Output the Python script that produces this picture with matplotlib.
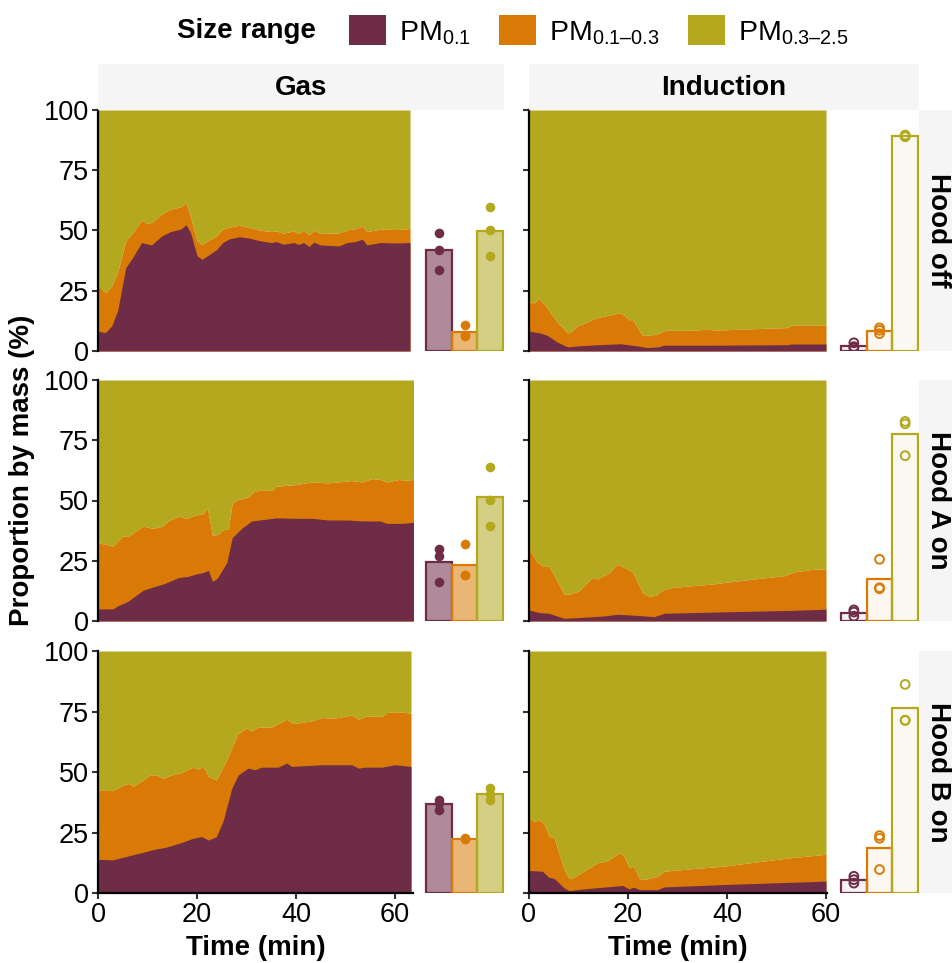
import matplotlib
matplotlib.use("Agg")
import matplotlib.pyplot as plt
from matplotlib.colors import to_rgba
from matplotlib.patches import Patch

plt.rcParams['font.family'] = ['Liberation Sans', 'DejaVu Sans']
plt.rcParams['mathtext.fontset'] = 'custom'
plt.rcParams['mathtext.rm'] = 'Liberation Sans'

# colours per size range
c_pm01 = '#6E2C46'
c_pm013 = '#D97A06'
c_pm0325 = '#B3A81E'
size_labels = [r'PM$_{\mathregular{0.1}}$', r'PM$_{\mathregular{0.1–0.3}}$', r'PM$_{\mathregular{0.3–2.5}}$']
stoves = ['Gas', 'Induction']
hoods = ['Hood off', 'Hood A on', 'Hood B on']

# ---- time series: upper edge of PM0.1 band and of PM0.1-0.3 band (%) ----
gas_off_t = [0, 1.5, 2.8, 4, 5.6, 7, 8.8, 9.8, 10.8, 12.9, 14.6, 16.7, 17.8, 18.7, 20, 21, 23.9, 25.2, 26.5, 28.6,
             30.6, 32.8, 35, 36, 37.4, 39.5, 40.5, 41.5, 42.6, 43.6, 44.9, 48.6, 50.3, 52, 53.4, 54.3, 57, 60, 63]
gas_off_pm01 = [8.3, 7.6, 10.5, 17, 34.6, 38.8, 45, 44.5, 44, 47.8, 49.5, 50.6, 52.4, 49, 39.5, 38, 42, 45, 46.5, 47.4,
                46.8, 45.7, 45, 45.4, 44.3, 45, 44.2, 45, 43.4, 45.2, 44, 43.6, 45, 45.4, 46.4, 44, 45, 44.8, 45]
gas_off_top = [27, 24.2, 27, 33, 45.7, 49, 54.3, 53, 53.3, 56.8, 58.9, 59.8, 61.6, 55.4, 45.7, 44.3, 47.8, 50.6, 51.5, 52.2,
               51.2, 50.1, 49.6, 49.8, 48.9, 49.8, 48.7, 50, 48.2, 50, 48.8, 49, 50.2, 50.8, 51.7, 49.5, 50.6, 50.4, 50.8]

gas_a_t_pu = [0, 3, 4, 6, 9.1, 10.8, 13.5, 16.2, 18.2, 19.6, 21.2, 22.3, 23.1, 24.1, 26, 27.1, 29, 31, 33, 36,
              39.8, 43.2, 46.5, 50.6, 53.3, 57, 58.3, 61.4, 64]
gas_a_pm01 = [5, 5, 6.3, 8.1, 12.8, 13.9, 15.6, 18, 18.5, 19.4, 20.1, 21, 16.4, 17.8, 24.2, 34.6, 38.4, 41.5, 42, 42.8,
              42.6, 42.6, 41.9, 41.9, 41.5, 41.5, 40.5, 40.5, 41]
gas_a_t_or = [0, 3, 5, 6, 9.1, 11.1, 13.1, 14.2, 16.2, 17.9, 19.6, 21.2, 22.1, 23.1, 24.3, 25.3, 26.3, 27.1, 28.3, 30.3,
              31.4, 33, 35.1, 36, 39.8, 43.2, 46.5, 51.2, 53.3, 55.3, 57, 58.3, 60.7, 63, 64]
gas_a_top = [32.5, 31.1, 35.3, 35, 39.4, 38.4, 39.4, 41.5, 43.5, 42.6, 43.9, 44.5, 46.7, 35.5, 36, 38, 38, 49, 50.4, 51.4,
             53.6, 54.5, 54.1, 55.9, 56.6, 57.7, 57.3, 58.3, 57.7, 59.1, 58.7, 57.7, 58.7, 58.3, 59.6]

gas_b_t_pu = [0, 3, 6.1, 8.8, 11.5, 13.5, 16.9, 19.2, 20.9, 22.3, 23.9, 25.3, 27, 28.3, 30.3, 31.7, 33, 36.4, 38.1, 39.1,
              45.2, 51.2, 52.6, 53.9, 57.3, 60, 63.2]
gas_b_pm01 = [13.9, 13.7, 15.3, 16.7, 18.1, 18.8, 20.9, 22.6, 23.3, 21.9, 23.3, 30, 43.2, 48.8, 51.6, 50.9, 52, 52, 53.7, 52.3,
              53, 53, 51.6, 52, 52, 53, 52.3]
gas_b_t_or = [0, 3, 4.7, 6.1, 7.1, 9.1, 10.5, 11.8, 13.1, 14.8, 16.9, 19.2, 20.2, 21.2, 22.3, 23.9, 26, 28.2, 30, 31,
              32.4, 35.1, 38.1, 39.4, 43.2, 45.2, 47.9, 51.2, 52.6, 54.3, 57.3, 58.3, 60.7, 63.2]
gas_b_top = [42.5, 42.3, 44.2, 45.3, 44.2, 46.7, 48.8, 48.8, 47.4, 48.8, 49.8, 52, 51.2, 52.3, 48.1, 46.7, 55.1, 65.6, 68.3, 66.9,
             68.6, 68.6, 71.8, 70, 71.1, 72.5, 72.3, 73.5, 71.8, 73.2, 73, 74.6, 74.9, 74.3]

ind_off_t_pu = [0, 2, 3.7, 5.7, 7.8, 9.8, 13.8, 18.5, 21.9, 23.9, 26, 27.3, 36, 52.3, 52.9, 60]
ind_off_pm01 = [8.2, 7.6, 6.5, 3.7, 1.7, 2.1, 2.6, 3, 2.1, 1.4, 1.7, 2.4, 2.4, 2.6, 2.9, 2.9]
ind_off_t_or = [0, 1, 2, 3, 5.7, 7.8, 8.4, 9.8, 11.8, 13.1, 15.2, 16.9, 18.2, 19.2, 20.2, 20.9, 22.9, 24.3, 26, 27.6,
                32.7, 35.7, 38.1, 46.2, 51.9, 53.3, 60]
ind_off_top = [20.4, 19.9, 21.7, 19.7, 12, 7.5, 7.9, 10.4, 12, 13.4, 14.5, 15.2, 15.9, 14.8, 13, 13, 6.5, 6.5, 7.2, 8.6,
               8.6, 9, 8.7, 9.3, 9.7, 10.7, 10.7]

ind_a_t_pu = [0, 2, 4, 7.1, 9.8, 15.2, 17.9, 21.2, 23.3, 25.3, 27.3, 39.4, 52.9, 60]
ind_a_pm01 = [4.6, 3.5, 3.2, 1.1, 1.4, 2.1, 2.8, 2.4, 2.1, 1.8, 3.2, 3.8, 4.4, 4.9]
ind_a_t_or = [0, 1.7, 3, 4, 7.1, 8.1, 10.1, 12.8, 13.8, 15.2, 16.2, 17.9, 19.2, 20.9, 22.9, 24.3, 25.6, 27, 29, 32.7,
              36.8, 40.8, 46.2, 51.6, 53.6, 57.7, 60]
ind_a_top = [29.9, 24.3, 22.6, 22.9, 11.1, 11.1, 12.5, 18.1, 17.4, 19, 20.1, 23.6, 22.2, 20.4, 11.8, 10.1, 10.7, 12.9, 13.9, 14.6,
             15.3, 16.3, 17.6, 18.8, 20.4, 21.5, 21.5]

ind_b_t_pu = [0, 2.7, 4, 5.1, 7.1, 8.1, 11.1, 17.2, 18.9, 20.2, 21.2, 22.3, 26, 27.3, 39.4, 60]
ind_b_pm01 = [9.3, 9, 6.5, 6, 2.1, 1, 1.7, 2.8, 3.1, 1.7, 2.4, 1.4, 1.4, 2.5, 3.5, 4.9]
ind_b_t_or = [0, 1, 2, 3, 4, 5.1, 7.1, 8.1, 9.1, 13.8, 15.8, 18.2, 19.2, 20.2, 21.1, 22.3, 23.3, 26, 27.3, 32.7,
              39.4, 46.2, 52.9, 60]
ind_b_top = [31, 29.6, 30.1, 28.8, 23.6, 22.6, 9.7, 6, 6.5, 12.5, 13.2, 16.7, 15.3, 10.4, 11.1, 6, 5.6, 6.9, 9, 10,
             11.1, 12.9, 14.6, 16]

# ---- mean proportions (bars) and per-test values (points), order PM0.1, PM0.1-0.3, PM0.3-2.5 ----
gas_off_bar = [41.8, 7.9, 49.8]
gas_off_pts = [[49, 42, 33.8], [10.7, 6.6, 6.4], [59.8, 50.4, 39.4]]
gas_a_bar = [24.4, 23.4, 51.3]
gas_a_pts = [[29.7, 27, 16], [32, 19.2, 19.0], [63.8, 50.2, 39.4]]
gas_b_bar = [36.6, 22.5, 41.1]
gas_b_pts = [[38.6, 37, 34.5], [22.9, 22.3, 22.4], [43.4, 41.1, 38.3]]
ind_off_bar = [2.1, 8.4, 89.2]
ind_off_pts = [[3.4, 1.8, 1.2], [9.6, 8.6, 7.2], [89.6, 89.2, 88.9]]
ind_a_bar = [3.4, 17.6, 77.7]
ind_a_pts = [[4.6, 3.7, 2.0], [25.6, 13.4, 13.8], [82.8, 81.8, 68.6]]
ind_b_bar = [5.2, 18.6, 76.3]
ind_b_pts = [[6.9, 5.5, 4.1], [23.7, 22.6, 9.7], [86.2, 71.4, 71.3]]

series = {
    ('Gas', 0): (gas_off_t, gas_off_pm01, gas_off_t, gas_off_top, gas_off_bar, gas_off_pts),
    ('Gas', 1): (gas_a_t_pu, gas_a_pm01, gas_a_t_or, gas_a_top, gas_a_bar, gas_a_pts),
    ('Gas', 2): (gas_b_t_pu, gas_b_pm01, gas_b_t_or, gas_b_top, gas_b_bar, gas_b_pts),
    ('Induction', 0): (ind_off_t_pu, ind_off_pm01, ind_off_t_or, ind_off_top, ind_off_bar, ind_off_pts),
    ('Induction', 1): (ind_a_t_pu, ind_a_pm01, ind_a_t_or, ind_a_top, ind_a_bar, ind_a_pts),
    ('Induction', 2): (ind_b_t_pu, ind_b_pm01, ind_b_t_or, ind_b_top, ind_b_bar, ind_b_pts),
}

W, H = 952, 963
fig = plt.figure(figsize=(W / 100, H / 100), dpi=100)


def rect(x0, y0, x1, y1):
    return [x0 / W, 1 - y1 / H, (x1 - x0) / W, (y1 - y0) / H]


rows_y = [(110, 351), (380, 621), (651, 893)]
area_x = [(98, 413), (529, 827)]
bar_x = [(424, 504), (839, 919)]
xmax = [63.6, 60.2]
colors = [c_pm01, c_pm013, c_pm0325]
strip_bg = '#F5F5F5'
fs_tick = 19.5
fs_title = 20

for ci, stove in enumerate(stoves):
    for ri in range(3):
        t_pu, pu, t_or, top, bar, pts = series[(stove, ri)]
        y0, y1 = rows_y[ri]

        ax = fig.add_axes(rect(area_x[ci][0], y0, area_x[ci][1], y1))
        ax.fill_between(t_or, top, 100, color=c_pm0325, lw=0)
        ax.fill_between(t_or, 0, top, color=c_pm013, lw=0)
        ax.fill_between(t_pu, 0, pu, color=c_pm01, lw=0)
        ax.set_xlim(0, xmax[ci])
        ax.set_ylim(0, 100)
        ax.set_yticks([0, 25, 50, 75, 100])
        ax.set_xticks([0, 20, 40, 60])
        for s in ['top', 'right']:
            ax.spines[s].set_visible(False)
        ax.spines['left'].set_linewidth(1.6)
        ax.spines['bottom'].set_linewidth(1.6)
        ax.tick_params(length=4.5, width=1.5, color='#333333', labelsize=fs_tick, pad=2)
        if ci == 1:
            ax.tick_params(axis='y', labelleft=False)
        if ri < 2:
            ax.spines['bottom'].set_visible(False)
            ax.tick_params(axis='x', bottom=False, labelbottom=False)
        else:
            ax.set_xlabel('Time (min)', fontsize=fs_title, fontweight='bold', labelpad=5)

        bx = fig.add_axes(rect(bar_x[ci][0], y0, bar_x[ci][1], y1))
        alpha = 0.55 if stove == 'Gas' else 0.06
        for k in range(3):
            bx.bar(k + 1, bar[k], width=1, facecolor=to_rgba(colors[k], alpha),
                   edgecolor=colors[k], linewidth=1.6)
            if stove == 'Gas':
                bx.scatter([k + 1] * len(pts[k]), pts[k], s=48, color=colors[k], zorder=3, lw=0)
            else:
                bx.scatter([k + 1] * len(pts[k]), pts[k], s=40, facecolor='none',
                           edgecolor=colors[k], linewidth=1.4, zorder=3)
        bx.set_xlim(0.42, 3.54)
        bx.set_ylim(0, 100)
        bx.axis('off')

        if ci == 1:
            sx = fig.add_axes(rect(919, y0, 952, y1))
            sx.set_facecolor(strip_bg)
            sx.set_xticks([])
            sx.set_yticks([])
            for s in sx.spines.values():
                s.set_visible(False)
            sx.text(0.58, 0.5, hoods[ri], rotation=-90, ha='center', va='center',
                    fontsize=fs_title, fontweight='bold', transform=sx.transAxes)

    tx = fig.add_axes(rect(area_x[ci][0], 64, bar_x[ci][1], 110))
    tx.set_facecolor(strip_bg)
    tx.set_xticks([])
    tx.set_yticks([])
    for s in tx.spines.values():
        s.set_visible(False)
    tx.text(0.5, 0.48, stove, ha='center', va='center', fontsize=fs_title, fontweight='bold',
            transform=tx.transAxes)

fig.text(22 / W, 1 - 470 / H, 'Proportion by mass (%)', rotation=90, ha='center', va='center',
         fontsize=fs_title, fontweight='bold')

# legend
fig.text(177 / W, 1 - 31 / H, 'Size range', ha='left', va='center', fontsize=fs_title, fontweight='bold')
handles = [Patch(facecolor=c, edgecolor='none') for c in colors]
fig.legend(handles, size_labels, loc='center left', bbox_to_anchor=(349 / W, 1 - 31 / H), ncol=3,
           frameon=False, fontsize=20.5, handlelength=1.3, handleheight=1.25, handletextpad=0.45,
           columnspacing=1.0, borderpad=0, borderaxespad=0)

fig.savefig('out.png', dpi=100)
